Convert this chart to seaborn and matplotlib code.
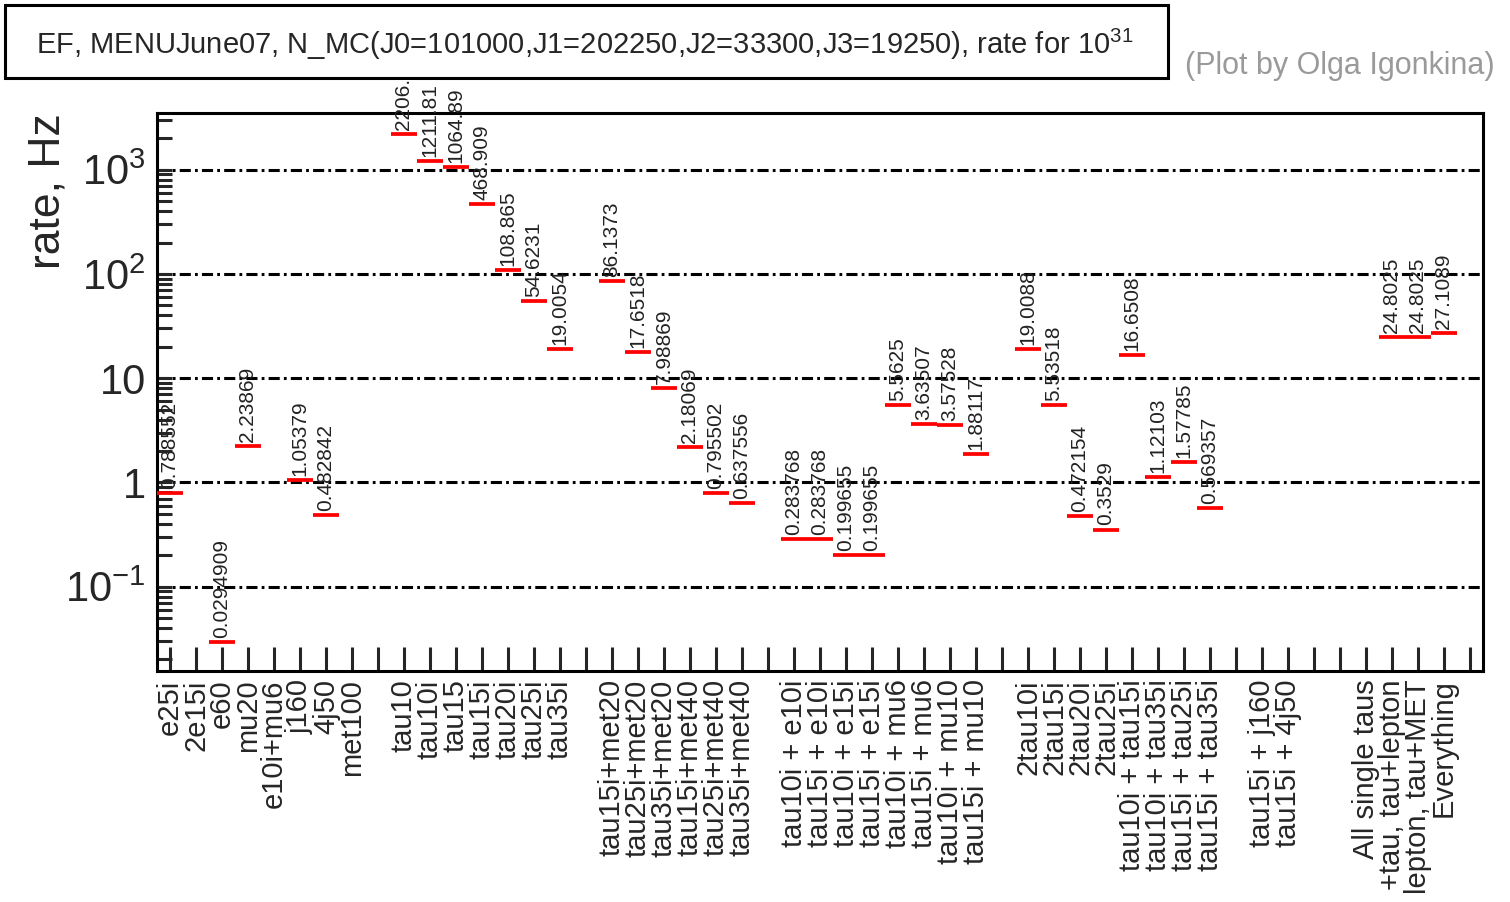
import numpy as np
import pandas as pd
import matplotlib
matplotlib.use("Agg")
import matplotlib.pyplot as plt
import matplotlib.ticker as mticker
from matplotlib.patches import Rectangle
import seaborn as sns

# trigger menu items, one per bin (empty string = spacer bin)
categories = [
    "e25i", "2e15i", "e60", "mu20", "e10i+mu6", "j160", "4j50", "met100", "",
    "tau10", "tau10i", "tau15", "tau15i", "tau20i", "tau25i", "tau35i", "",
    "tau15i+met20", "tau25i+met20", "tau35i+met20", "tau15i+met40", "tau25i+met40", "tau35i+met40", "",
    "tau10i + e10i", "tau15i + e10i", "tau10i + e15i", "tau15i + e15i",
    "tau10i + mu6", "tau15i + mu6", "tau10i + mu10", "tau15i + mu10", "",
    "2tau10i", "2tau15i", "2tau20i", "2tau25i",
    "tau10i + tau15i", "tau10i + tau35i", "tau15i + tau25i", "tau15i + tau35i", "",
    "tau15i + j160", "tau15i + 4j50", "", "",
    "All single taus", "+tau, tau+lepton", "lepton, tau+MET", "Everything", "",
]

# rate in Hz (None = nothing drawn)
rates = [
    0.788552, None, 0.0294909, 2.23869, None, 1.05379, 0.482842, None, None,
    2206.45, 1211.81, 1064.89, 468.909, 108.865, 54.6231, 19.0054, None,
    86.1373, 17.6518, 7.98869, 2.18069, 0.795502, 0.637556, None,
    0.283768, 0.283768, 0.199655, 0.199655, 5.5625, 3.63507, 3.57528, 1.88117, None,
    19.0088, 5.53518, 0.472154, 0.3529, 16.6508, 1.12103, 1.57785, 0.569357, None,
    None, None, None, None,
    None, 24.8025, 24.8025, 27.1089, None,
]

ytick_vals = [0.1, 1, 10, 100, 1000]
ytick_labels = [r"$10^{-1}$", "1", "10", r"$10^{2}$", r"$10^{3}$"]

title = r"EF, MENUJune07, N_MC(J0=101000,J1=202250,J2=33300,J3=19250), rate for 10$^{31}$"

sns.set_style("white")
plt.rcParams["font.family"] = ["Liberation Sans", "DejaVu Sans"]
plt.rcParams["mathtext.fontset"] = "custom"
plt.rcParams["mathtext.rm"] = "Liberation Sans"
plt.rcParams["mathtext.it"] = "Liberation Sans"
plt.rcParams["lines.scale_dashes"] = False

df = pd.DataFrame({"bin": np.arange(len(categories)), "rate": rates}).dropna()

fig = plt.figure(figsize=(15.1, 9.02), dpi=100)
ax = fig.add_axes([157 / 1510, 1 - 671 / 902, 1326 / 1510, 558 / 902])

# each rate is a horizontal segment spanning its bin
nbins = len(categories)
seg_pt = ax.get_position().width * fig.get_figwidth() * 72 / nbins
sns.scatterplot(data=df, x="bin", y="rate", marker="_", s=seg_pt ** 2,
                color="red", edgecolor="red", linewidth=2.7, legend=False,
                ax=ax, zorder=5)

ax.set_yscale("log")
ax.set_xlim(-0.5, nbins - 0.5)
ax.set_ylim(0.0155, 3500)

for _, r in df.iterrows():
    ax.annotate(f"{r['rate']:g}", (r["bin"], r["rate"]), xytext=(0, 3),
                textcoords="offset points", rotation=90, ha="center",
                va="bottom", fontsize=15, color="#222222", clip_on=False,
                zorder=6)

ax.set_xticks(np.arange(nbins))
ax.set_xticklabels(categories, rotation=90, fontsize=21)
ax.yaxis.set_major_locator(mticker.FixedLocator(ytick_vals))
ax.yaxis.set_major_formatter(mticker.FixedFormatter(ytick_labels))
ax.yaxis.set_minor_locator(mticker.LogLocator(base=10, subs=np.arange(2, 10), numticks=20))
ax.yaxis.set_minor_formatter(mticker.NullFormatter())
ax.tick_params(axis="y", which="major", labelsize=30, direction="in",
               length=11, width=2.2, pad=8, left=True)
ax.tick_params(axis="y", which="minor", direction="in", length=11, width=2.2, left=True)
ax.tick_params(axis="x", direction="in", length=17, width=2.2, pad=6, bottom=True)

ax.grid(axis="y", which="major", color="black", linewidth=2.2,
        linestyle=(0, (8, 3, 2, 3)))
ax.grid(axis="x", visible=False)
for sp in ax.spines.values():
    sp.set_linewidth(2.2)
    sp.set_color("black")

ax.set_xlabel("")
ax.set_ylabel("rate, Hz", fontsize=32, loc="top")
ax.yaxis.set_label_coords(-0.067, 1.0)

# title box
fig.patches.append(Rectangle((5 / 1510, 1 - 78 / 902), 1163 / 1510, 73 / 902,
                             transform=fig.transFigure, facecolor="white",
                             edgecolor="black", linewidth=2.2, zorder=10))
fig.text(585 / 1510, 1 - 44 / 902, title, ha="center", va="center",
         fontsize=21, zorder=11)
fig.text(1185 / 1510, 1 - 66 / 902, "(Plot by Olga Igonkina)", ha="left",
         va="center", fontsize=22, color="#9a9a9a")

plt.savefig("out.png", dpi=100)
